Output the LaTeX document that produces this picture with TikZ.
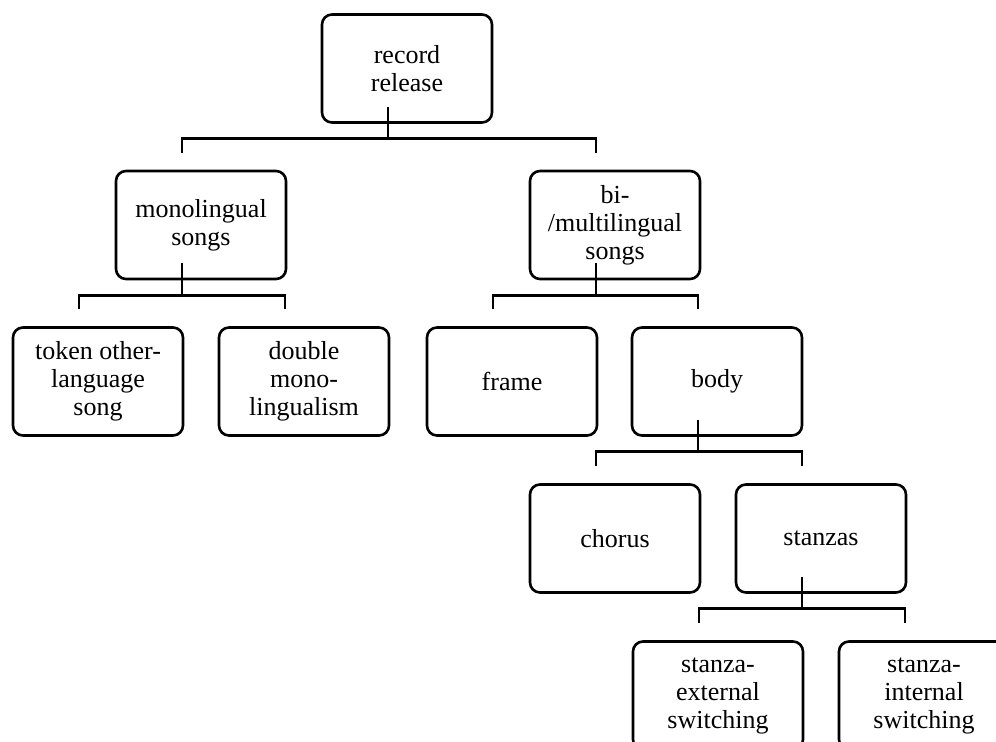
\documentclass[tikz,border=0pt]{standalone}
\usepackage{fontspec}
\setmainfont{Liberation Serif}
\usetikzlibrary{calc}
\tikzstyle{box}=[draw,line width=1.3pt,rounded corners=5pt,align=center,minimum width=85pt,minimum height=54pt,inner sep=2pt,font=\fontsize{13}{14}\selectfont]
\tikzstyle{conn}=[line width=1.3pt]

\begin{document}
\begin{tikzpicture}[x=0.5pt,y=-0.5pt]
	\useasboundingbox (0,0) rectangle (996,742);
	% levels
	\node[box] (rr) at (407,68.5) {record\\release};
	\node[box] (mono) at (201,225) {monolingual\\songs};
	\node[box] (bi) at (615,225) {bi-\\/multilingual\\songs};
	\node[box] (token) at (98,381.5) {token other-\\language\\song};
	\node[box] (double) at (304,381.5) {double\\mono-\\lingualism};
	\node[box] (frame) at (512,381.5) {frame};
	\node[box] (body) at (717,381.5) {body};
	\node[box] (chorus) at (615,538.5) {chorus};
	\node[box] (stanzas) at (821,538.5) {stanzas};
	\node[box] (ext) at (718,695.5) {stanza-\\external\\switching};
	\node[box] (int) at (924,695.5) {stanza-\\internal\\switching};
	% connectors
	\foreach \p/\l/\r in {rr/mono/bi, mono/token/double, bi/frame/body, body/chorus/stanzas, stanzas/ext/int}
	{
		\draw[conn] ([xshift=-9.5pt,yshift=8.5pt]\p.south) -- ([xshift=-9.5pt,yshift=-7.5pt]\p.south);
		\draw[conn] ([xshift=-9.5pt,yshift=8.5pt]\l.north) |- ([xshift=-9.5pt,yshift=-7.5pt]\p.south)
			-| ([xshift=-9.5pt,yshift=8.5pt]\r.north);
	}
\end{tikzpicture}
\end{document}
